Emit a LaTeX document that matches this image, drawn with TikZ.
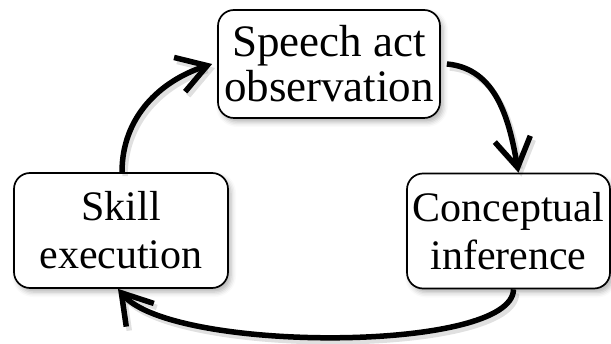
\documentclass[tikz,border=0pt]{standalone}
\usepackage{fontspec}
\setmainfont{Liberation Serif}
\usetikzlibrary{arrows.meta,shadows.blur}
\begin{document}
\begin{tikzpicture}[x=1pt,y=-1pt,
  box/.style={draw=black, line width=1.7pt, rounded corners=16pt, fill=white, align=center, inner sep=0pt,
    blur shadow={shadow xshift=3pt,shadow yshift=-4pt,shadow blur radius=5pt,shadow opacity=30}},
  flow/.style={line width=5.5pt, -{Straight Barb[length=29pt,width=36pt]}},
  flowshadow/.style={flow, draw=black, opacity=0.12, transform canvas={shift={(3pt,-4pt)}}},
]
\useasboundingbox (0,0) rectangle (611,344);
\node[box, minimum width=222pt, minimum height=108pt, font=\fontsize{45}{45}\selectfont] (T) at (329,64) {Speech act\\observation};
\node[box, minimum width=214pt, minimum height=115pt, font=\fontsize{42}{48}\selectfont] (L) at (121,230.5) {Skill\\execution};
\node[box, minimum width=203pt, minimum height=115pt, font=\fontsize{42}{48}\selectfont] (R) at (508.5,231) {Conceptual\\inference};
\foreach \s in {flowshadow, flow} {
  \draw[\s] ([xshift=1pt]L.north) to[out=90,in=198] ([xshift=-5pt]T.west);
  \draw[\s] ([xshift=6pt]T.east) to[out=-5,in=100] ([xshift=10pt]R.north);
  \draw[\s] ([xshift=5pt]R.south) .. controls (513,353) and (172,353) .. ([xshift=-3pt]L.south);
}
\end{tikzpicture}
\end{document}
